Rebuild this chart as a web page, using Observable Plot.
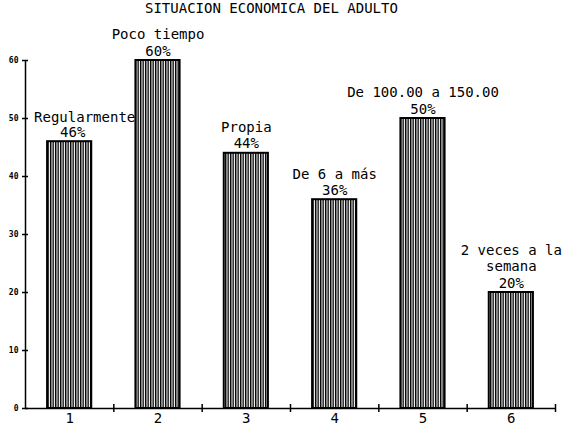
<!DOCTYPE html>
<html>
<head>
<meta charset="utf-8">
<script src="https://cdn.jsdelivr.net/npm/d3@7"></script>
<script src="https://cdn.jsdelivr.net/npm/@observablehq/plot@0.6"></script>
<style>
  html, body { margin: 0; padding: 0; background: #fff; }
  #title { height: 24px; line-height: 24px; padding-left: 145px; font: 14px "DejaVu Sans Mono", monospace; color: #000; white-space: pre; }
</style>
</head>
<body>
<div id="title">SITUACION ECONOMICA DEL ADULTO</div>
<div id="chart"></div>
<script>
const categories = [1, 2, 3, 4, 5, 6];
const values = [46, 60, 44, 36, 50, 20];
const labels = ["Regularmente", "Poco tiempo", "Propia", "De 6 a más", "De 100.00 a 150.00", "2 veces a la\nsemana"];
const yTicks = [0, 10, 20, 30, 40, 50, 60];
const xBoundaries = [1.5, 2.5, 3.5, 4.5, 5.5, 6.5];

const data = categories.map((c, i) => ({cat: c, value: values[i], label: labels[i]}));
const font = '"DejaVu Sans Mono", monospace';

const svg = Plot.plot({
  width: 570,
  height: 404,
  marginTop: 36,
  marginBottom: 20,
  marginLeft: 25,
  marginRight: 15,
  style: {fontFamily: font, background: "white", overflow: "visible"},
  x: {type: "linear", domain: [0.5, 6.5], axis: null},
  y: {domain: [0, 60], axis: null},
  marks: [
    Plot.rectY(data, {x1: d => d.cat - 0.25, x2: d => d.cat + 0.25, y: "value", fill: "url(#vhatch)", stroke: "black", strokeWidth: 2}),
    Plot.ruleY([0], {stroke: "black", strokeWidth: 1.5}),
    Plot.ruleX([0.5], {y1: 0, y2: 60, stroke: "black", strokeWidth: 1.5}),
    Plot.axisY({ticks: yTicks, label: null, tickSize: 6, dx: 3, tickFormat: () => "", stroke: "black", strokeWidth: 1.5}),
    Plot.axisY({ticks: yTicks, label: null, tickSize: 0, tickPadding: 7, fontSize: 8, fontWeight: "bold", fill: "black"}),
    Plot.axisX({ticks: xBoundaries, label: null, tickSize: 8, dy: -4, tickFormat: () => "", stroke: "black", strokeWidth: 1.5}),
    Plot.axisX({ticks: categories, label: null, tickSize: 0, tickPadding: 5, fontSize: 14, fill: "black", tickFormat: d => String(d)}),
    Plot.text(data.filter(d => d.cat !== 1), {x: "cat", y: "value", text: d => d.label + "\n" + d.value + "%", lineAnchor: "bottom", dy: -5, fontSize: 14, lineHeight: 1.15, fill: "black"}),
    Plot.text(data.filter(d => d.cat === 1), {x: "cat", y: "value", text: d => d.label, lineAnchor: "bottom", dy: -20, dx: 15, fontSize: 14, fill: "black"}),
    Plot.text(data.filter(d => d.cat === 1), {x: "cat", y: "value", text: d => d.value + "%", lineAnchor: "bottom", dy: -5, dx: 3, fontSize: 14, fill: "black"})
  ]
});

const defs = d3.select(svg).insert("defs", ":first-child");
const pat = defs.append("pattern")
  .attr("id", "vhatch")
  .attr("patternUnits", "userSpaceOnUse")
  .attr("width", 2.5)
  .attr("height", 10);
pat.append("rect").attr("width", 2.5).attr("height", 10).attr("fill", "white");
pat.append("rect").attr("x", 0).attr("width", 1.4).attr("height", 10).attr("fill", "black");

document.getElementById("chart").appendChild(svg);
</script>
</body>
</html>
